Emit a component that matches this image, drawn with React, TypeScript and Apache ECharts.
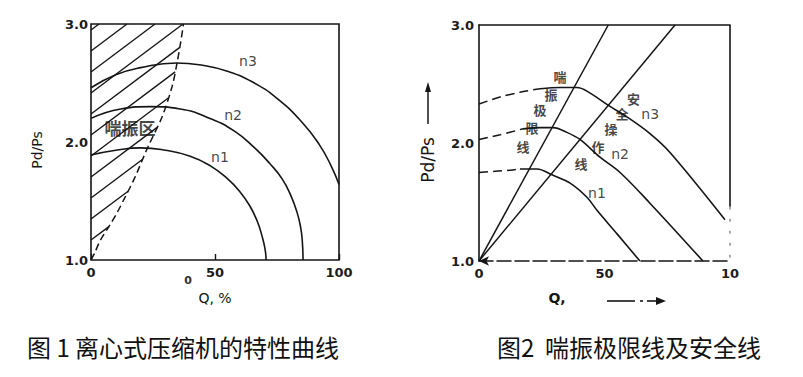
import React, { useEffect, useRef } from 'react';
import * as echarts from 'echarts';

// ---------- tick labels ----------
const yTickLabels = ['1.0', '2.0', '3.0'];
const xTickLabels1 = ['0', '50', '100'];
const xTickLabels2 = ['0', '50', '10'];

// ---------- Figure 1: characteristic curves (Q %, Pd/Ps) ----------
const f1N1 = [[0, 1.89], [10, 1.93], [20, 1.95], [30, 1.93], [40, 1.88], [48, 1.8], [55, 1.69], [60, 1.58], [64, 1.46], [67, 1.33], [69, 1.2], [70.2, 1.09], [70.6, 1.0]];
const f1N2 = [[0, 2.2], [12, 2.28], [24, 2.3], [36, 2.28], [48, 2.2], [58, 2.09], [66, 1.95], [72, 1.82], [77, 1.69], [80.5, 1.55], [83, 1.41], [84.5, 1.28], [85.2, 1.16], [85.5, 1.0]];
const f1N3 = [[0, 2.46], [10, 2.57], [20, 2.63], [34.5, 2.67], [45, 2.65], [55, 2.6], [65, 2.51], [75, 2.37], [85, 2.17], [92, 1.98], [97, 1.79], [100, 1.64]];
const f1Surge = [[0, 1.0], [1.5, 1.06], [3.6, 1.16], [7.7, 1.3], [10.5, 1.4], [13.7, 1.53], [17.7, 1.7], [23, 1.96], [28.6, 2.21], [32.7, 2.47], [34.7, 2.67], [36.2, 2.85], [37.3, 3.0]];
const f1Labels = [
  { name: 'n3', value: [63.3, 2.69] },
  { name: 'n2', value: [57.3, 2.23] },
  { name: 'n1', value: [52, 1.87] },
];
const f1ZoneLabel = { name: '喘振区', value: [15.7, 2.12] };

// ---------- Figure 2: surge limit line and safety line ----------
const f2LineA = [[0, 1.0], [51.5, 3.0]];
const f2LineB = [[0, 1.0], [78.1, 3.0]];
const f2N1Dash = [[0, 1.75], [6.4, 1.76], [12.4, 1.77], [16.3, 1.78]];
const f2N1 = [[16.3, 1.78], [23.1, 1.78], [29.1, 1.73], [36.3, 1.66], [43, 1.54], [47, 1.43], [55, 1.23], [64.1, 1.0]];
const f2N2Dash = [[0, 2.03], [8.4, 2.07], [17.5, 2.12]];
const f2N2 = [[17.5, 2.12], [24.3, 2.13], [29.5, 2.13], [35, 2.09], [40.2, 2.03], [48.2, 1.88], [56.2, 1.75], [68.1, 1.49], [89.2, 1.0]];
const f2N3Dash = [[0, 2.33], [8.4, 2.39], [16.3, 2.43], [24.3, 2.46]];
const f2N3 = [[24.3, 2.46], [32.3, 2.47], [39, 2.47], [43, 2.44], [52.2, 2.31], [59, 2.22], [68.1, 2.08], [76.1, 1.92], [98, 1.35]];
const f2RightSolid = [[100, 3.0], [100, 1.46]];
const f2RightDash = [[100, 1.46], [100, 1.0]];
const f2LeftChars = ['喘', '振', '极', '限', '线'];
const f2LeftPos = [[32.3, 2.56], [28.7, 2.41], [24.3, 2.28], [21.1, 2.13], [17.5, 1.97]];
const f2RightChars = ['安', '全', '操', '作', '线'];
const f2RightPos = [[61.6, 2.38], [57, 2.25], [52.6, 2.12], [47.4, 1.97], [40.6, 1.83]];
const f2Labels = [
  { name: 'n3', value: [68.2, 2.25] },
  { name: 'n2', value: [56.2, 1.91] },
  { name: 'n1', value: [47, 1.58] },
];

const INK = '#151515';
const TICK_FONT = 'DejaVu Sans';
const CJK = 'Noto Sans CJK SC';

function line(data: number[][], idx: number, opts: any = {}) {
  return {
    type: 'line',
    xAxisIndex: idx,
    yAxisIndex: idx,
    data,
    symbol: 'none',
    showSymbol: false,
    smooth: opts.smooth ?? 0,
    clip: false,
    silent: true,
    lineStyle: { color: opts.color ?? INK, width: opts.width ?? 1.6, type: opts.type ?? 'solid' },
    z: 3,
  };
}

function labels(data: any[], idx: number, fontSize: number, family: string, weight: string = 'normal') {
  return {
    type: 'scatter',
    xAxisIndex: idx,
    yAxisIndex: idx,
    data,
    symbolSize: 1,
    itemStyle: { color: 'rgba(0,0,0,0)' },
    silent: true,
    z: 5,
    label: {
      show: true,
      position: 'inside',
      formatter: '{b}',
      color: INK,
      fontSize,
      fontFamily: family,
      fontWeight: weight,
    },
  };
}

const hatchSeries = {
  type: 'custom',
  xAxisIndex: 0,
  yAxisIndex: 0,
  data: [[0, 1]],
  silent: true,
  z: 2,
  renderItem: (_params: any, api: any) => {
    const pts = f1Surge.map((p) => api.coord(p));
    const tl = api.coord([0, 3]);
    const bl = api.coord([0, 1]);
    const k = 0.75;
    const step = 21;
    const x0 = tl[0];
    const yTop = tl[1];
    const children: any[] = [];
    for (let yl = yTop + 6; yl < bl[1] - 2; yl += step) {
      const c = yl + k * x0;
      let end = [(c - yTop) / k, yTop];
      for (let i = 0; i < pts.length - 1; i++) {
        const a = pts[i][1] + k * pts[i][0] - c;
        const b = pts[i + 1][1] + k * pts[i + 1][0] - c;
        if ((a >= 0 && b < 0) || (a <= 0 && b > 0)) {
          const t = a / (a - b);
          const p = [pts[i][0] + t * (pts[i + 1][0] - pts[i][0]), pts[i][1] + t * (pts[i + 1][1] - pts[i][1])];
          if (p[0] < end[0]) end = p;
          break;
        }
      }
      children.push({
        type: 'line',
        shape: { x1: x0, y1: yl, x2: end[0], y2: end[1] },
        style: { stroke: INK, lineWidth: 1.4 },
      });
    }
    return { type: 'group', children };
  },
};

const tickLabel = {
  color: '#1c1c1c',
  fontSize: 13,
  fontWeight: 'bold',
  fontFamily: TICK_FONT,
};

const option: any = {
  animation: false,
  backgroundColor: '#ffffff',
  grid: [
    { left: 91, top: 24, width: 248, height: 236, show: true, borderColor: INK, borderWidth: 1.6, backgroundColor: 'rgba(0,0,0,0)' },
    { left: 479, top: 25, width: 251, height: 236, show: false },
  ],
  xAxis: [
    {
      gridIndex: 0, type: 'value', min: 0, max: 100, interval: 50,
      axisLine: { show: false },
      axisTick: { show: true, inside: true, length: 6, lineStyle: { color: INK, width: 1.4 } },
      splitLine: { show: false },
      axisLabel: { ...tickLabel, margin: 6, formatter: (v: number) => xTickLabels1[Math.round(v / 50)] },
    },
    {
      gridIndex: 1, type: 'value', min: 0, max: 100, interval: 50,
      axisLine: {
        show: true, onZero: false, symbol: ['arrow', 'none'], symbolSize: [7, 10],
        lineStyle: { color: INK, width: 1.5, type: [14, 4] },
      },
      axisTick: { show: false },
      splitLine: { show: false },
      axisLabel: { ...tickLabel, margin: 6, formatter: (v: number) => xTickLabels2[Math.round(v / 50)] },
    },
    {
      gridIndex: 1, type: 'value', min: 0, max: 100, position: 'top',
      axisLine: { show: true, onZero: false, lineStyle: { color: INK, width: 1.6 } },
      axisTick: { show: false },
      splitLine: { show: false },
      axisLabel: { show: false },
    },
  ],
  yAxis: [
    {
      gridIndex: 0, type: 'value', min: 1, max: 3, interval: 1,
      axisLine: { show: false },
      axisTick: { show: false },
      splitLine: { show: false },
      axisLabel: { ...tickLabel, margin: 3, formatter: (v: number) => yTickLabels[Math.round(v - 1)] },
    },
    {
      gridIndex: 1, type: 'value', min: 1, max: 3, interval: 1,
      axisLine: { show: true, onZero: false, lineStyle: { color: INK, width: 1.6 } },
      axisTick: { show: false },
      splitLine: { show: false },
      axisLabel: { ...tickLabel, margin: 5, formatter: (v: number) => yTickLabels[Math.round(v - 1)] },
    },
  ],
  series: [
    hatchSeries,
    line(f1Surge, 0, { type: [7, 4], width: 1.5, smooth: 0.3 }),
    line(f1N1, 0, { smooth: 0.5 }),
    line(f1N2, 0, { smooth: 0.5 }),
    line(f1N3, 0, { smooth: 0.5 }),
    labels(f1Labels, 0, 14, TICK_FONT),
    labels([f1ZoneLabel], 0, 17, CJK, 'bold'),

    line(f2LineA, 1, { width: 1.5 }),
    line(f2LineB, 1, { width: 1.5 }),
    line(f2N1Dash, 1, { type: [9, 5], width: 1.5, smooth: 0.3 }),
    line(f2N1, 1, { smooth: 0.35 }),
    line(f2N2Dash, 1, { type: [9, 5], width: 1.5, smooth: 0.3 }),
    line(f2N2, 1, { smooth: 0.35 }),
    line(f2N3Dash, 1, { type: [9, 5], width: 1.5, smooth: 0.3 }),
    line(f2N3, 1, { smooth: 0.35 }),
    line(f2RightSolid, 1, { width: 1.6 }),
    line(f2RightDash, 1, { width: 1.2, type: [3, 9], color: '#777' }),
    labels(f2LeftChars.map((c, i) => ({ name: c, value: f2LeftPos[i] })), 1, 13, CJK, 'bold'),
    labels(f2RightChars.map((c, i) => ({ name: c, value: f2RightPos[i] })), 1, 13, CJK, 'bold'),
    labels(f2Labels, 1, 14, TICK_FONT),
  ],
  graphic: [
    { type: 'text', x: 37, y: 150, rotation: Math.PI / 2, style: { text: 'Pd/Ps', fill: INK, font: `14px "${TICK_FONT}"`, textAlign: 'center', textVerticalAlign: 'middle' } },
    { type: 'text', x: 215, y: 298, style: { text: 'Q, %', fill: INK, font: `14px "${TICK_FONT}"`, textAlign: 'center', textVerticalAlign: 'middle' } },
    { type: 'text', x: 188, y: 280, style: { text: '0', fill: '#333', font: `bold 11px "${TICK_FONT}"`, textAlign: 'center', textVerticalAlign: 'middle' } },
    { type: 'text', x: 428, y: 160, rotation: Math.PI / 2, style: { text: 'Pd/Ps', fill: INK, font: `17px "${TICK_FONT}"`, textAlign: 'center', textVerticalAlign: 'middle' } },
    { type: 'line', shape: { x1: 428, y1: 124, x2: 428, y2: 88 }, style: { stroke: INK, lineWidth: 1.5 } },
    { type: 'polygon', shape: { points: [[428, 82], [425, 92], [431, 92]] }, style: { fill: INK } },
    { type: 'text', x: 557, y: 298, style: { text: 'Q,', fill: INK, font: `bold 14px "${TICK_FONT}"`, textAlign: 'center', textVerticalAlign: 'middle' } },
    { type: 'line', shape: { x1: 607, y1: 301, x2: 635, y2: 301 }, style: { stroke: INK, lineWidth: 1.6 } },
    { type: 'line', shape: { x1: 640, y1: 301, x2: 643, y2: 301 }, style: { stroke: INK, lineWidth: 1.6 } },
    { type: 'line', shape: { x1: 647, y1: 301, x2: 658, y2: 301 }, style: { stroke: INK, lineWidth: 1.6 } },
    { type: 'polygon', shape: { points: [[666, 301], [656, 297], [656, 305]] }, style: { fill: INK } },
    { type: 'text', x: 27, y: 346, style: { text: '图 1 离心式压缩机的特性曲线', fill: '#111', font: `24px "${CJK}"`, textAlign: 'left', textVerticalAlign: 'middle' } },
    { type: 'text', x: 497, y: 346, style: { text: '图2  喘振极限线及安全线', fill: '#111', font: `24px "${CJK}"`, textAlign: 'left', textVerticalAlign: 'middle' } },
  ],
};

export default function App() {
  const ref = useRef<HTMLDivElement>(null);
  useEffect(() => {
    document.body.style.margin = '0';
    const chart = echarts.init(ref.current as HTMLDivElement, null, { renderer: 'svg' });
    chart.setOption(option);
    return () => chart.dispose();
  }, []);
  return <div ref={ref} style={{ width: 803, height: 377, background: '#fff' }} />;
}
